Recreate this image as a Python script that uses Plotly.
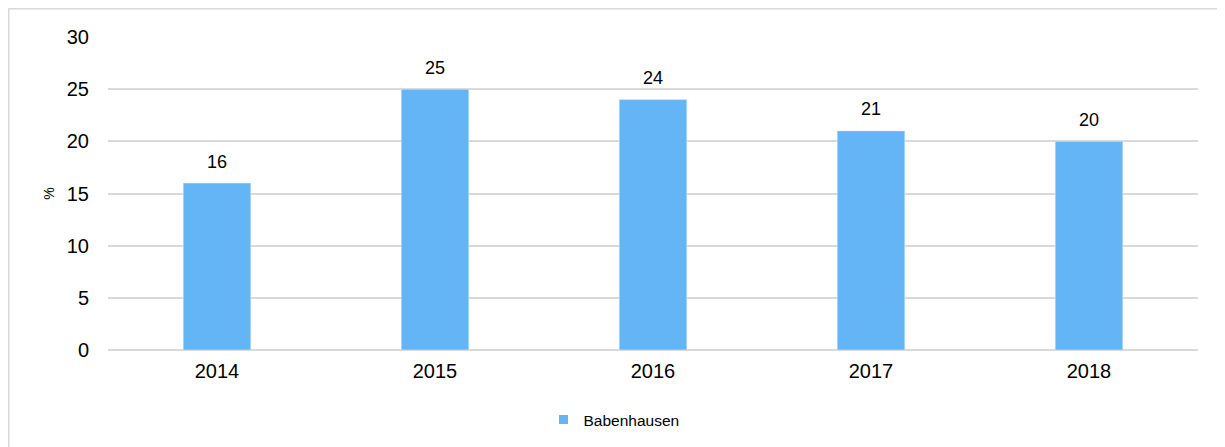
import plotly.graph_objects as go

years = ["2014", "2015", "2016", "2017", "2018"]
values = [16, 25, 24, 21, 20]
series_name = "Babenhausen"
bar_color = "#64B5F6"

# Page has an 8px body offset; margins compensate so the plot lands where the reference has it.
L, T, PW, PH = 100, 29, 1090, 313
W, H = 1225, 447

fig = go.Figure()
fig.add_trace(go.Bar(
    x=years, y=values, name=series_name,
    marker=dict(color=bar_color), width=0.31,
    showlegend=False, hoverinfo="x+y",
))
# data labels
fig.add_trace(go.Scatter(
    x=years, y=values, mode="markers+text",
    text=[str(v) for v in values], textposition="top center",
    textfont=dict(family="Liberation Sans, Arial", size=18, color="#000000"),
    marker=dict(size=16, opacity=0, color=bar_color),
    showlegend=False, hoverinfo="skip", cliponaxis=False,
))
# legend entry with small square
fig.add_trace(go.Scatter(
    x=[None], y=[None], mode="markers", name=series_name,
    marker=dict(symbol="square", size=9, color=bar_color),
))

fig.update_layout(
    width=W, height=H,
    margin=dict(l=L, r=W - L - PW, t=T, b=H - T - PH),
    paper_bgcolor="white", plot_bgcolor="white",
    font=dict(family="Liberation Sans, Arial", color="#000000"),
    showlegend=True,
    legend=dict(orientation="h", x=(614 - 8 - L) / PW, xanchor="center",
                y=(T + PH - (420 - 8)) / PH, yanchor="middle",
                font=dict(size=15.5), itemwidth=30),
    xaxis=dict(tickfont=dict(size=20), showgrid=False, showline=False, ticks="",
               ticklabelstandoff=7),
    yaxis=dict(range=[0, 30], dtick=5, tickfont=dict(size=20), showgrid=True,
               gridcolor="#d9d9d9", gridwidth=1.5, zeroline=True, zerolinecolor="#d9d9d9",
               zerolinewidth=1.5, ticks="", ticklabelstandoff=18,
               title=dict(text="%", font=dict(size=14), standoff=8)),
    shapes=[dict(type="rect", xref="paper", yref="paper",
                 x0=(0.75 - L) / PW, x1=1.2, y0=-0.5, y1=(T + PH - 0.75) / PH,
                 line=dict(color="#d9d9d9", width=1.5), fillcolor="rgba(0,0,0,0)")],
)

fig.write_html("out.html")
